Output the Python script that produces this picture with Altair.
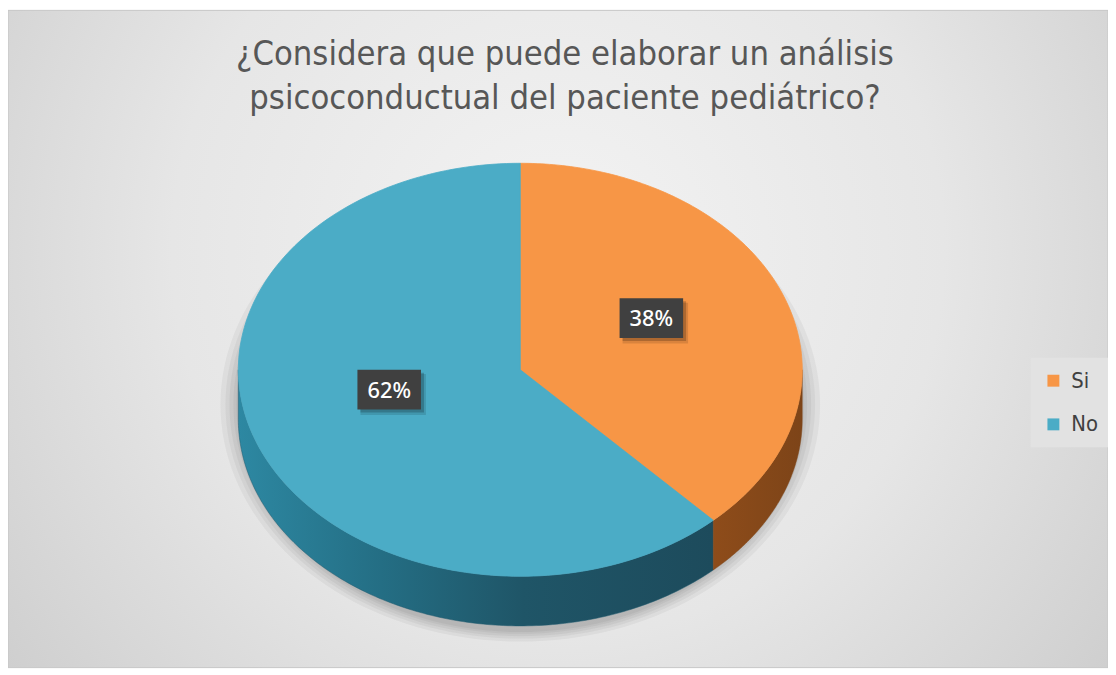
import altair as alt
import numpy as np
import pandas as pd

# ---- data ----
categories = ["Si", "No"]
values = [38, 62]
colors = ["#F79646", "#4BACC6"]
title_lines = ["¿Considera que puede elaborar un análisis",
               "psicoconductual del paciente pediátrico?"]

# ---- layout constants (chart pixels) ----
W, H = 1108, 662
CX, CY, RX, RY, DEPTH = 516, 362, 284, 208, 50
N = 160
TITLE_FONT = "Liberation Sans Narrow, DejaVu Sans Condensed, sans-serif"

total = float(sum(values))
ends = np.cumsum(values) / total
starts = ends - np.array(values) / total

# top faces: one closed polygon per slice (centre + arc)
top_rows = []
for c, s, e in zip(categories, starts, ends):
    top_rows.append(dict(cat=c, k=-1, t=0.0, a0=s, a1=e, r=0))
    for k in range(N + 1):
        top_rows.append(dict(cat=c, k=k, t=k / N, a0=s, a1=e, r=1))
top_df = pd.DataFrame(top_rows)

# visible side walls (front half of the disc: 0.25 .. 0.75 of the turn)
side_rows = []
for c, s, e in zip(categories, starts, ends):
    f0, f1 = max(s, 0.25), min(e, 0.75)
    if f1 <= f0:
        continue
    for k in range(N + 1):
        side_rows.append(dict(cat=c, k=k, t=k / N, a0=f0, a1=f1, d=0))
    for k in range(N + 1):
        side_rows.append(dict(cat=c, k=N + 1 + k, t=1 - k / N, a0=f0, a1=f1, d=1))
side_df = pd.DataFrame(side_rows)

label_df = pd.DataFrame({"cat": categories, "value": values,
                         "mid": (starts + ends) / 2})

ring_rows = []
for ring, grow in enumerate([18, 13, 9, 5, 2]):
    for k in range(N + 1):
        ring_rows.append(dict(ring=ring, g=grow, k=k, t=k / N))
ring_df = pd.DataFrame(ring_rows)

xs = alt.Scale(domain=[0, W], nice=False, zero=False)
ys = alt.Scale(domain=[0, H], nice=False, zero=False, reverse=True)
X = alt.X("x:Q", scale=xs, axis=None)
Y = alt.Y("y:Q", scale=ys, axis=None)

color_scale = alt.Scale(domain=categories, range=colors)

# background
bg = alt.Chart(pd.DataFrame({"a": [0]})).mark_rect(
    fill={"gradient": "radial",
          "stops": [{"offset": 0, "color": "#f3f3f3"},
                    {"offset": 0.45, "color": "#e6e6e6"},
                    {"offset": 1, "color": "#c2c2c2"}],
          "x1": 0.5, "y1": 0.42, "x2": 0.5, "y2": 0.42, "r1": 0, "r2": 0.78},
    stroke="#c6c6c6", strokeWidth=1
).encode(x=alt.value(0), x2=alt.value(W), y=alt.value(0), y2=alt.value(H))

# soft shadow below the disc
shadow = alt.Chart(ring_df).transform_calculate(
    x=f"{CX} + ({RX} + datum.g) * sin(2 * PI * datum.t)",
    y=f"{CY + DEPTH * 0.6 + 5} - ({RY} + {DEPTH * 0.4} + 0.6 * datum.g) * cos(2 * PI * datum.t)"
).mark_line(interpolate="linear-closed", fill="#000000", fillOpacity=0.045,
            strokeWidth=0).encode(
    x=X, y=Y, detail="ring:N", order="k:Q")

side_calc = dict(
    x=f"{CX} + {RX} * sin(2 * PI * (datum.a0 + datum.t * (datum.a1 - datum.a0)))",
    y=f"{CY} - {RY} * cos(2 * PI * (datum.a0 + datum.t * (datum.a1 - datum.a0))) + datum.d * {DEPTH}",
)

side_no = alt.Chart(side_df).transform_filter(
    alt.datum.cat == categories[1]).transform_calculate(**side_calc).mark_line(
    interpolate="linear-closed",
    fill={"gradient": "linear",
          "stops": [{"offset": 0, "color": "#2d88a2"},
                    {"offset": 0.3, "color": "#246e84"},
                    {"offset": 0.6, "color": "#1f5567"},
                    {"offset": 1, "color": "#1d4b5c"}],
          "x1": 0, "y1": 0, "x2": 1, "y2": 0},
    stroke="#1f5a6d", strokeWidth=0.5
).encode(x=X, y=Y, order="k:Q")

side_si = alt.Chart(side_df).transform_filter(
    alt.datum.cat == categories[0]).transform_calculate(**side_calc).mark_line(
    interpolate="linear-closed",
    fill={"gradient": "linear",
          "stops": [{"offset": 0, "color": "#8e4c1a"},
                    {"offset": 1, "color": "#7d4418"}],
          "x1": 0, "y1": 0, "x2": 1, "y2": 0},
    stroke="#7d4418", strokeWidth=0.5
).encode(x=X, y=Y, order="k:Q")

top_face = alt.Chart(top_df).transform_calculate(
    x=f"{CX} + datum.r * {RX} * sin(2 * PI * (datum.a0 + datum.t * (datum.a1 - datum.a0)))",
    y=f"{CY} - datum.r * {RY} * cos(2 * PI * (datum.a0 + datum.t * (datum.a1 - datum.a0)))",
).mark_line(interpolate="linear-closed", strokeWidth=0.8).encode(
    x=X, y=Y,
    fill=alt.Fill("cat:N", scale=color_scale, sort=categories,
                  legend=alt.Legend(orient="none", legendX=1030, legendY=350,
                                    title=None, symbolType="square",
                                    symbolSize=144, symbolStrokeWidth=0,
                                    labelFontSize=22, labelFont=TITLE_FONT,
                                    labelColor="#404040", rowPadding=22,
                                    labelOffset=7, padding=12,
                                    fillColor="#e2e2e2")),
    stroke=alt.Stroke("cat:N", scale=color_scale, legend=None),
    detail="cat:N", order="k:Q")

lab_base = alt.Chart(label_df).transform_joinaggregate(
    tot="sum(value)").transform_calculate(
    pct="datum.value / datum.tot",
    x=f"{CX} + 0.5 * {RX} * sin(2 * PI * datum.mid)",
    y=f"{CY} - 0.47 * {RY} * cos(2 * PI * datum.mid) - 16",
)
BOX = "M-1.6,-1H1.6V1H-1.6Z"
box_sh1 = lab_base.mark_point(shape=BOX, size=1700, filled=True, fill="#000000",
                              opacity=0.12, strokeWidth=0, xOffset=4, yOffset=5
                              ).encode(x=X, y=Y)
box_sh2 = lab_base.mark_point(shape=BOX, size=1600, filled=True, fill="#000000",
                              opacity=0.2, strokeWidth=0, xOffset=3, yOffset=3
                              ).encode(x=X, y=Y)
box = lab_base.mark_point(shape=BOX, size=1600, filled=True, fill="#404040",
                          opacity=1, strokeWidth=0).encode(x=X, y=Y)
lab_txt = lab_base.mark_text(font="Noto Sans", fontSize=22, fontWeight=500,
                             color="#ffffff",
                             align="center", baseline="middle", dy=1).encode(
    x=X, y=Y, text=alt.Text("pct:Q", format=".0%"))

title = alt.Chart(pd.DataFrame({"a": [0]})).mark_text(
    text=title_lines, font=TITLE_FONT, fontSize=34.5, lineHeight=44,
    color="#575757", align="center", baseline="alphabetic"
).encode(x=alt.value(561), y=alt.value(55))

chart = alt.layer(bg, shadow, side_no, side_si, top_face, box_sh1, box_sh2, box,
                  lab_txt, title).properties(
    width=W, height=H, padding=0, autosize=alt.AutoSizeParams(type="none"),
    background="#ffffff"
).configure_view(stroke=None)

chart.save("out.html", embed_options={"renderer": "svg", "actions": False})
